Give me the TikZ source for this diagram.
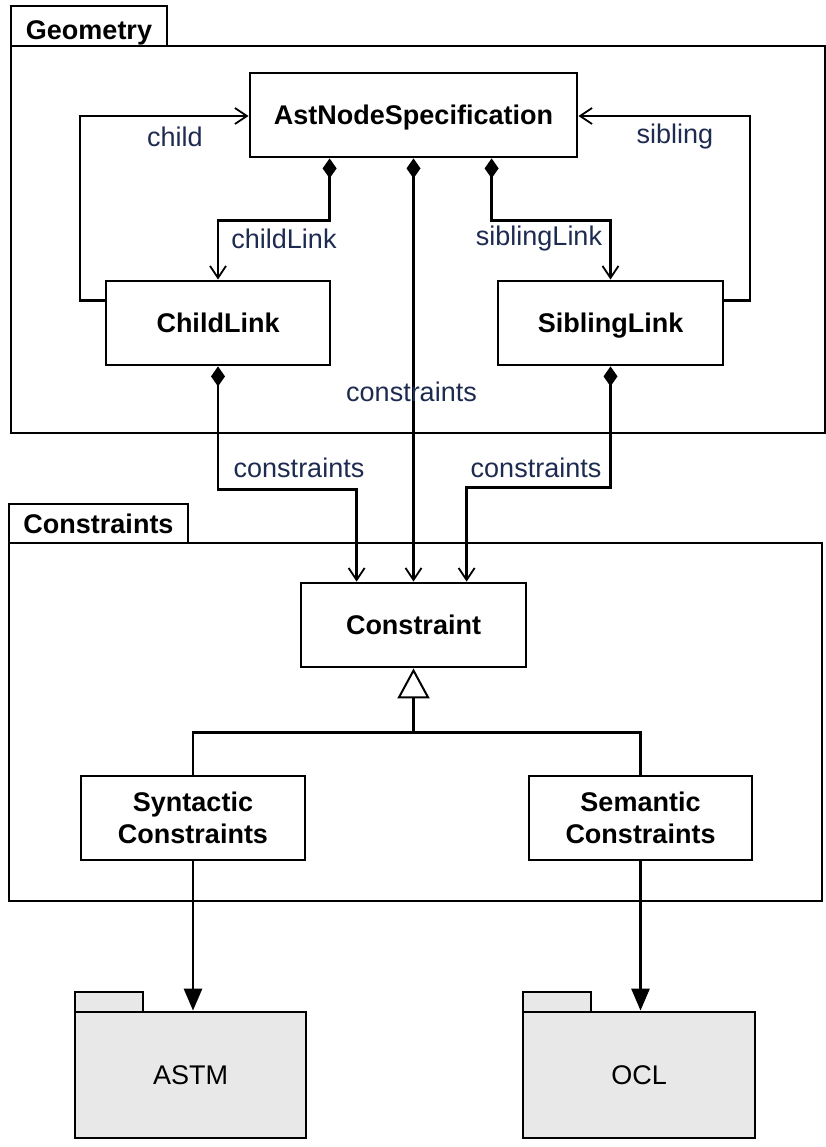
\documentclass[tikz,border=0pt]{standalone}
\usepackage{fontspec}
\setmainfont{Liberation Sans}
\usetikzlibrary{arrows.meta,calc}
\definecolor{lblcol}{HTML}{1E2B50}
\definecolor{pkgfill}{HTML}{E8E8E8}
\begin{document}
\begin{tikzpicture}[x=1pt,y=-1pt,
  line width=2.8pt,
  font=\fontsize{27}{32}\selectfont,
  cls/.style={draw, rectangle, inner sep=0pt, minimum width=#1, minimum height=84pt, align=center, font=\fontsize{27}{32}\selectfont\bfseries},
  one/.style={text height=19.5pt, text depth=0pt},
  pkgbody/.style={draw, rectangle, inner sep=0pt},
  pkgtab/.style={draw, rectangle, inner sep=0pt, font=\fontsize{27}{32}\selectfont\bfseries},
  lbl/.style={text=lblcol, inner sep=0pt},
  comp/.style={{Diamond[length=20pt,width=14pt]}-{Straight Barb[length=12pt,width=16pt,line width=1.8pt]}},
  nav/.style={-{Straight Barb[length=12pt,width=16pt,line width=1.8pt]}},
  dep/.style={-{Triangle[length=22pt,width=18pt]}},
  gen/.style={-{Triangle[open,length=30pt,width=32pt,fill=white,line width=2pt]}}
]
\useasboundingbox (0,0) rectangle (826,1147);

% Geometry package
\node[pkgbody, minimum width=814pt, minimum height=387pt] (geo) at (418,239.5) {};
\node[pkgtab, minimum width=156pt, minimum height=40pt, text height=27.5pt, text depth=0pt] (geotab) at (89,26) {Geometry};

% Constraints package
\node[pkgbody, minimum width=813pt, minimum height=358pt] (cons) at (415.5,722) {};
\node[pkgtab, one, minimum width=179pt, minimum height=39pt] (constab) at (98.5,523.5) {Constraints};

% Classes
\node[cls=327pt, one] (ast) at (413.5,115) {AstNodeSpecification};
\node[cls=224pt, one] (childlink) at (218,323) {ChildLink};
\node[cls=225pt, one] (siblinglink) at (610.5,323) {SiblingLink};
\node[cls=225pt, one] (constraint) at (413.5,625) {Constraint};
\node[cls=224pt] (syn) at (193,818) {Syntactic\\Constraints};
\node[cls=223pt] (sem) at (640.5,818) {Semantic\\Constraints};

% External packages
\node[draw, fill=pkgfill, inner sep=0pt, minimum width=231pt, minimum height=126pt] (astm) at (190.5,1075) {ASTM};
\node[draw, fill=pkgfill, inner sep=0pt, minimum width=68pt, minimum height=20pt] (astmtab) at (109,1002) {};
\node[draw, fill=pkgfill, inner sep=0pt, minimum width=232pt, minimum height=126pt] (ocl) at (639,1075) {OCL};
\node[draw, fill=pkgfill, inner sep=0pt, minimum width=68pt, minimum height=20pt] (ocltab) at (557,1002) {};

% child / sibling self-references
\coordinate (cl1) at ($(childlink.north west)+(0,21)$);
\coordinate (cl2) at (80,116);
\draw[nav] (cl1) -| (cl2) -- (cl2 -| ast.west);
\coordinate (sl1) at ($(siblinglink.north east)+(0,21)$);
\coordinate (sl2) at (750,116);
\draw[nav] (sl1) -| (sl2) -- (sl2 -| ast.east);
\node[lbl] (lchild) at (175,137) {child};
\node[lbl] (lsibling) at (675,137) {sibling};

% compositions from AstNodeSpecification
\draw[comp] ([xshift=81pt]ast.south west) -- ++(0,62) -| (childlink.north);
\draw[comp] ([xshift=243pt]ast.south west) -- ++(0,62) -| (siblinglink.north);
\draw[comp] (ast.south) -- (constraint.north);
\node[lbl] (lchildlink) at (284,239) {childLink};
\node[lbl] (lsiblinglink) at (539,239) {siblingLink};
\node[lbl] (lcons1) at (411.5,392) {constraints};

% compositions from links
\draw[comp] (childlink.south) -- ++(0,123) -| ([xshift=57pt]constraint.north west);
\draw[comp] (siblinglink.south) -- ++(0,121) -| ([xshift=167pt]constraint.north west);
\node[lbl] (lcons2) at (299,468) {constraints};
\node[lbl] (lcons3) at (536,468) {constraints};

% generalization
\coordinate (gj) at ($(constraint.south)+(0,64)$);
\draw (syn.north) |- (gj) -| (sem.north);
\draw[gen] (gj) -- (constraint.south);

% dependencies
\draw[dep] (syn.south) -- (syn.south |- astm.north);
\draw[dep] (sem.south) -- (sem.south |- ocl.north);
\end{tikzpicture}
\end{document}
